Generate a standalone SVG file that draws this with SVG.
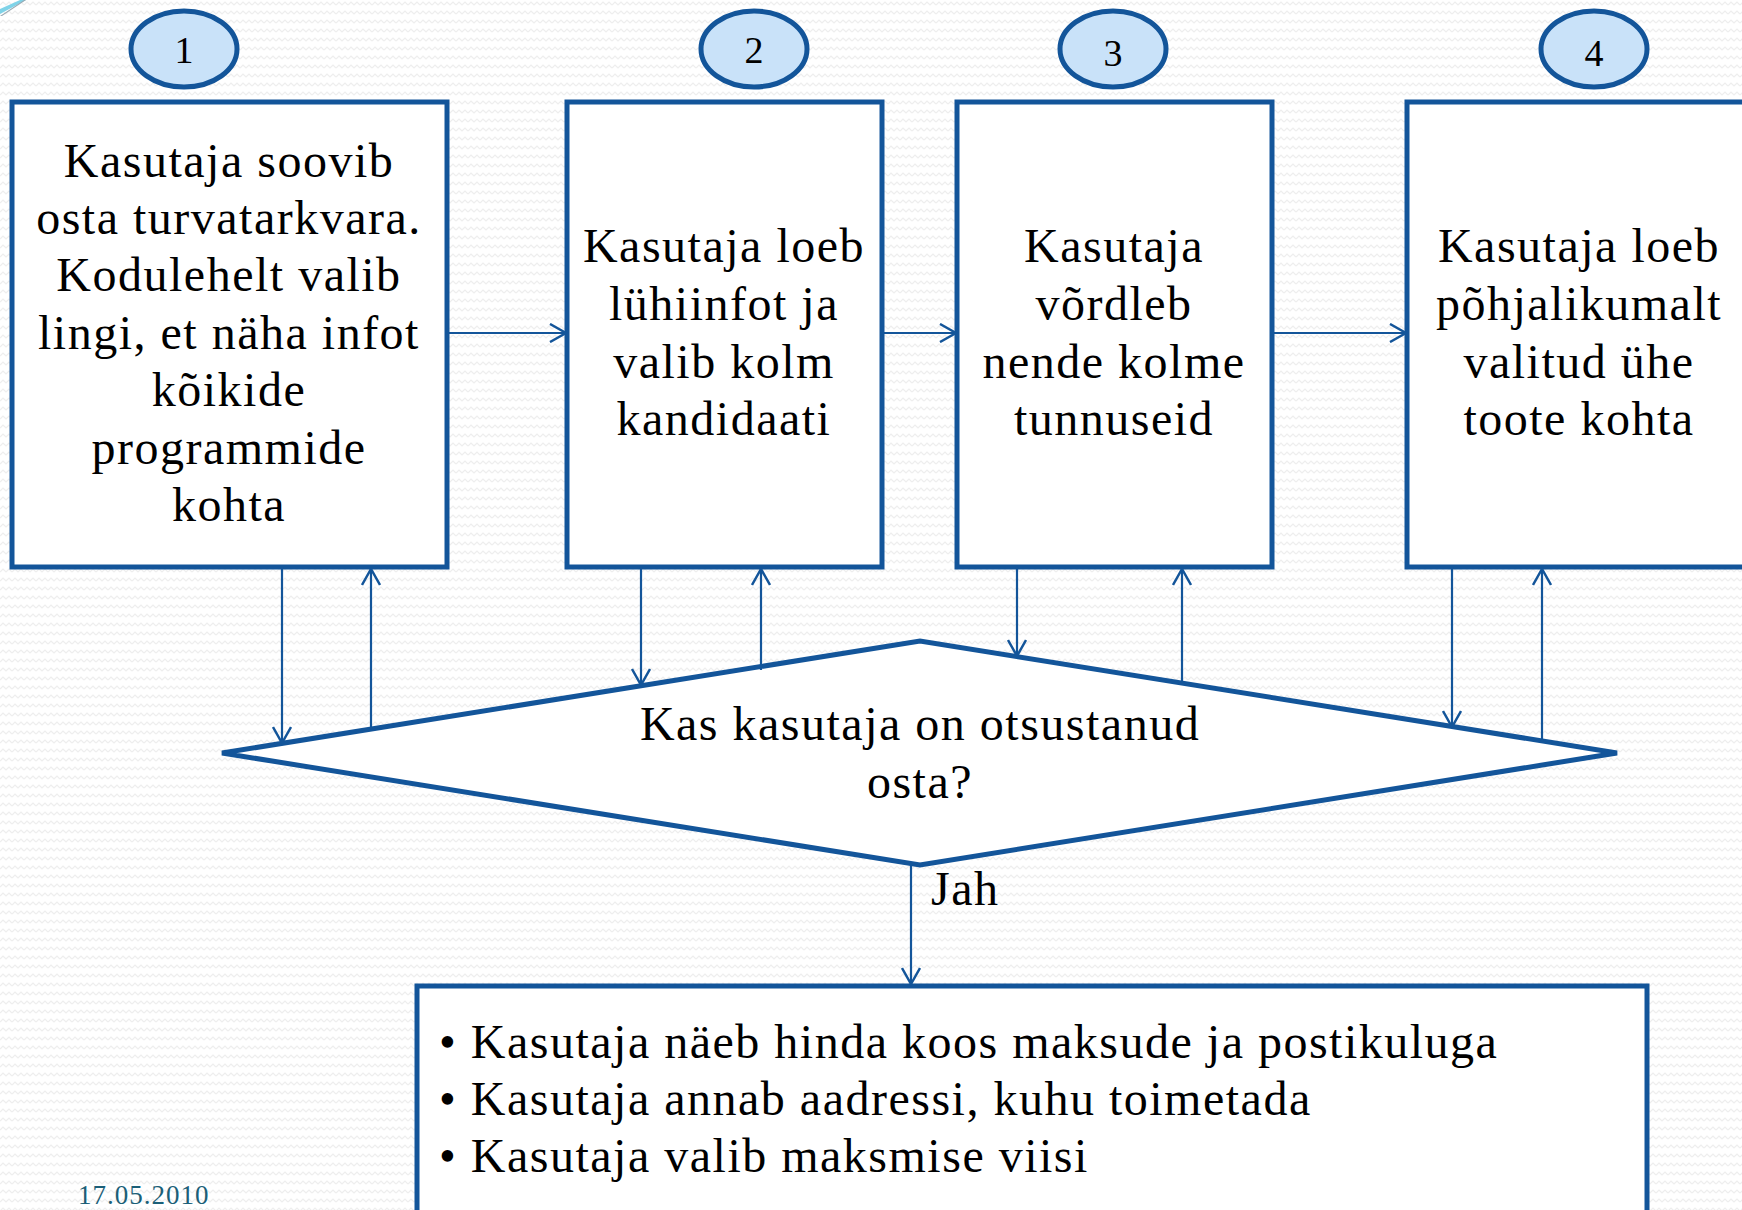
<svg xmlns="http://www.w3.org/2000/svg" width="1742" height="1210" viewBox="0 0 1742 1210">
<defs>
<pattern id="bg" width="12" height="9" patternUnits="userSpaceOnUse">
<rect width="12" height="9" fill="#ffffff"/>
<polyline points="0,5 3,2 6,5 9,2 12,5" fill="none" stroke="#eeeeee" stroke-width="1.2"/>
</pattern>
<marker id="ah" viewBox="0 0 20 20" refX="18" refY="10" markerWidth="20" markerHeight="20" markerUnits="userSpaceOnUse" orient="auto">
<polyline points="2,1 18,10 2,19" fill="none" stroke="#13559a" stroke-width="2.5"/>
</marker>
<style>
.box{fill:#ffffff;stroke:#13559a;stroke-width:5;stroke-linejoin:miter}
.num{fill:#c9e2f9;stroke:#13559a;stroke-width:5}
.t{font-family:"Liberation Serif","DejaVu Serif",serif;font-size:48px;letter-spacing:1.5px;fill:#000;text-anchor:middle}
.n{font-family:"Liberation Serif","DejaVu Serif",serif;font-size:38px;fill:#000;text-anchor:middle}
.b{font-family:"Liberation Serif","DejaVu Serif",serif;font-size:48px;letter-spacing:1.5px;fill:#000}
.c{fill:none;stroke:#13559a;stroke-width:2.2}
</style>
</defs>
<rect width="1742" height="1210" fill="url(#bg)"/>
<path d="M0,14 L26,0 L20,0 L0,9 Z" fill="#7fd3e8"/>
<path d="M0,16 L24,0 L26,0 L2,16 Z" fill="#9aa9b3"/>

<g id="num1"><ellipse class="num" cx="184" cy="49" rx="53" ry="38"/><text class="n" x="184" y="63">1</text></g>
<g id="num2"><ellipse class="num" cx="754" cy="49" rx="53" ry="38"/><text class="n" x="754" y="63">2</text></g>
<g id="num3"><ellipse class="num" cx="1113" cy="49" rx="53" ry="38"/><text class="n" x="1113" y="66">3</text></g>
<g id="num4"><ellipse class="num" cx="1594" cy="49" rx="53" ry="38"/><text class="n" x="1594" y="66">4</text></g>

<g id="box1"><rect class="box" x="12" y="102" width="435" height="465"/>
<text class="t" x="229"><tspan x="229" y="177">Kasutaja soovib</tspan><tspan x="229" y="234">osta turvatarkvara.</tspan><tspan x="229" y="291">Kodulehelt valib</tspan><tspan x="229" y="349">lingi, et näha infot</tspan><tspan x="229" y="406">kõikide</tspan><tspan x="229" y="464">programmide</tspan><tspan x="229" y="521">kohta</tspan></text></g>

<g id="box2"><rect class="box" x="567" y="102" width="315" height="465"/>
<text class="t"><tspan x="724" y="262">Kasutaja loeb</tspan><tspan x="724" y="320">lühiinfot ja</tspan><tspan x="724" y="378">valib kolm</tspan><tspan x="724" y="435">kandidaati</tspan></text></g>

<g id="box3"><rect class="box" x="957" y="102" width="315" height="465"/>
<text class="t"><tspan x="1114" y="262">Kasutaja</tspan><tspan x="1114" y="320">võrdleb</tspan><tspan x="1114" y="378">nende kolme</tspan><tspan x="1114" y="435">tunnuseid</tspan></text></g>

<g id="box4"><rect class="box" x="1407" y="102" width="345" height="465"/>
<text class="t"><tspan x="1579" y="262">Kasutaja loeb</tspan><tspan x="1579" y="320">põhjalikumalt</tspan><tspan x="1579" y="378">valitud ühe</tspan><tspan x="1579" y="435">toote kohta</tspan></text></g>

<g id="decision"><polygon class="box" points="222,753 920,641 1617,753 920,865"/>
<text class="t"><tspan x="920" y="740">Kas kasutaja on otsustanud</tspan><tspan x="920" y="798">osta?</tspan></text></g>

<g id="result"><rect class="box" x="417" y="986" width="1230" height="240"/>
<text class="b"><tspan x="439" y="1058">• Kasutaja näeb hinda koos maksude ja postikuluga</tspan><tspan x="439" y="1115">• Kasutaja annab aadressi, kuhu toimetada</tspan><tspan x="439" y="1172">• Kasutaja valib maksmise viisi</tspan></text></g>

<g id="connectors">
<line class="c" x1="447" y1="333" x2="566" y2="333" marker-end="url(#ah)"/>
<line class="c" x1="882" y1="333" x2="956" y2="333" marker-end="url(#ah)"/>
<line class="c" x1="1272" y1="333" x2="1406" y2="333" marker-end="url(#ah)"/>
<line class="c" x1="282" y1="567" x2="282" y2="743" marker-end="url(#ah)"/>
<line class="c" x1="371" y1="729" x2="371" y2="569" marker-end="url(#ah)"/>
<line class="c" x1="641" y1="567" x2="641" y2="685" marker-end="url(#ah)"/>
<line class="c" x1="761" y1="670" x2="761" y2="569" marker-end="url(#ah)"/>
<line class="c" x1="1017" y1="567" x2="1017" y2="656" marker-end="url(#ah)"/>
<line class="c" x1="1182" y1="683" x2="1182" y2="569" marker-end="url(#ah)"/>
<line class="c" x1="1452" y1="567" x2="1452" y2="727" marker-end="url(#ah)"/>
<line class="c" x1="1542" y1="741" x2="1542" y2="569" marker-end="url(#ah)"/>
<line class="c" x1="911" y1="864" x2="911" y2="984" marker-end="url(#ah)"/>
<text class="b" x="931" y="905">Jah</text>
</g>
<text x="78" y="1204" font-family="Liberation Serif, DejaVu Serif, serif" font-size="27" letter-spacing="1" fill="#1b5f78">17.05.2010</text>
</svg>
